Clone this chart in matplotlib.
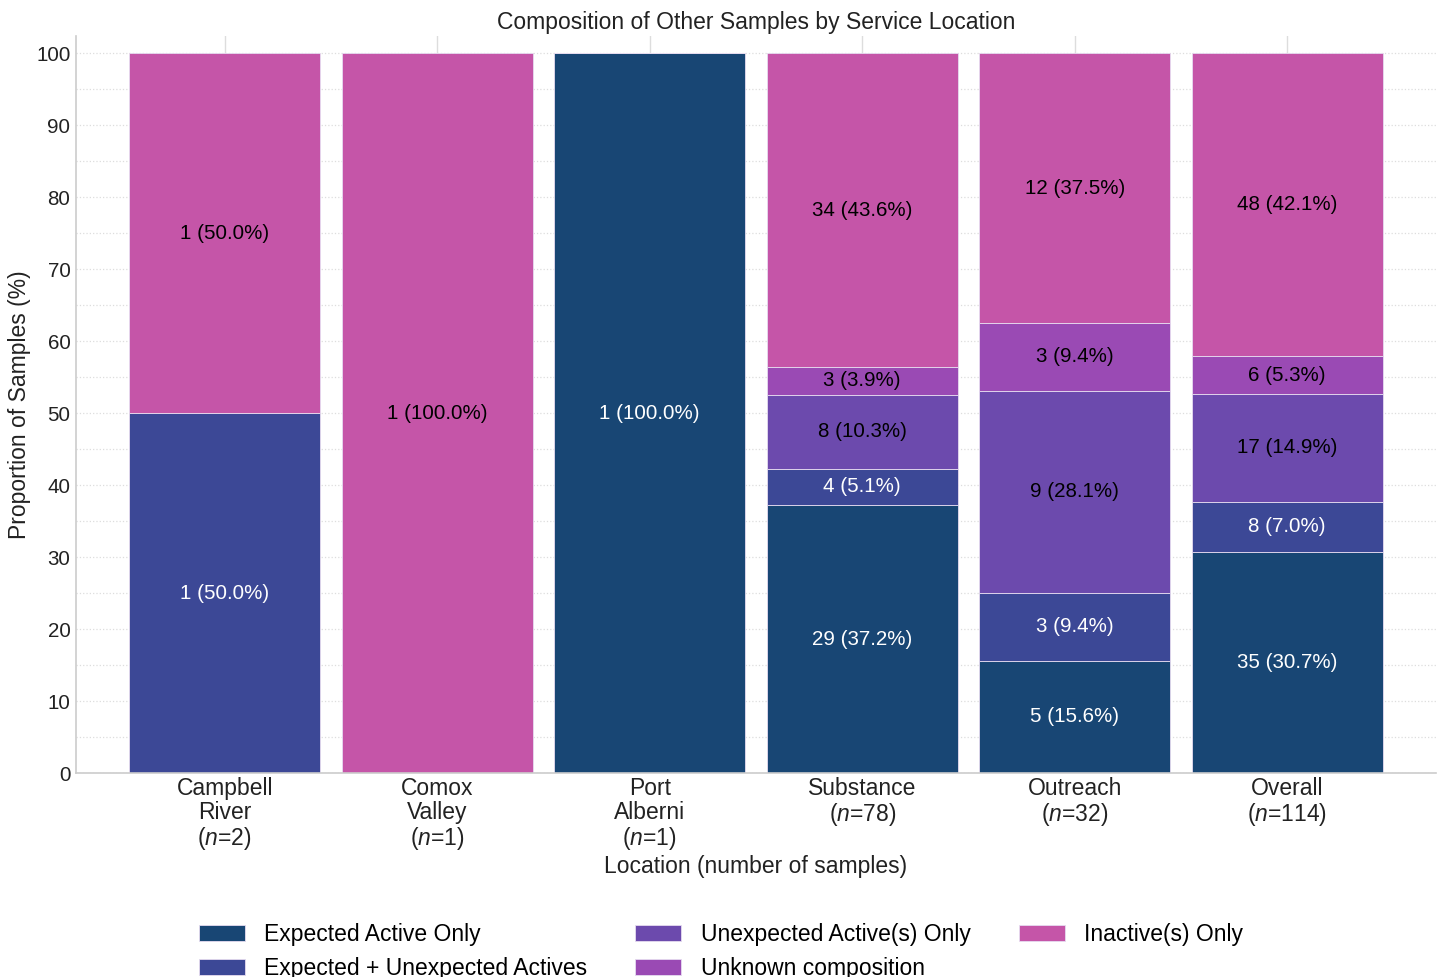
import matplotlib
matplotlib.use("Agg")
import matplotlib.pyplot as plt
import matplotlib.ticker as mticker
import numpy as np

FS = 16.5
FS_SMALL = 14.8
plt.rcParams.update({
    "font.family": ["Liberation Sans", "DejaVu Sans"],
    "font.size": FS,
    "mathtext.fontset": "custom",
    "mathtext.it": "Liberation Sans:italic",
    "mathtext.rm": "Liberation Sans",
})

# ── Data ────────────────────────────────────────────────────────────────
locations = ["Campbell\nRiver", "Comox\nValley", "Port\nAlberni",
             "Substance", "Outreach", "Overall"]
expected_only = [0, 0, 1, 29, 5, 35]
expected_plus = [1, 0, 0, 4, 3, 8]
unexpected_only = [0, 0, 0, 8, 9, 17]
unknown = [0, 0, 0, 3, 3, 6]
inactive = [1, 1, 0, 34, 12, 48]

# percentages as printed on the chart
expected_only_pct = [0, 0, 100.0, 37.2, 15.6, 30.7]
expected_plus_pct = [50.0, 0, 0, 5.1, 9.4, 7.0]
unexpected_only_pct = [0, 0, 0, 10.3, 28.1, 14.9]
unknown_pct = [0, 0, 0, 3.9, 9.4, 5.3]
inactive_pct = [50.0, 100.0, 0, 43.6, 37.5, 42.1]

categories = ["Expected Active Only", "Expected + Unexpected Actives",
              "Unexpected Active(s) Only", "Unknown composition",
              "Inactive(s) Only"]
colors = ["#184674", "#3c4896", "#6c4aad", "#9a4ab4", "#c555a8"]
text_colors = ["white", "white", "black", "black", "black"]

counts = np.array([expected_only, expected_plus, unexpected_only,
                   unknown, inactive], dtype=float)
shown_pct = np.array([expected_only_pct, expected_plus_pct,
                      unexpected_only_pct, unknown_pct, inactive_pct])
totals = counts.sum(axis=0)
pct = counts / totals * 100

# ── Figure ──────────────────────────────────────────────────────────────
fig = plt.figure(figsize=(14.42, 9.77), dpi=100)
ax = fig.add_axes([0.0527, 0.2088, 0.9431, 0.7543])

x = np.arange(len(locations))
bottom = np.zeros(len(locations))
for i, (cat, col) in enumerate(zip(categories, colors)):
    ax.bar(x, pct[i], 0.9, bottom=bottom, color=col, label=cat,
           edgecolor="#e6dcf0", linewidth=0.6, zorder=2)
    for j in range(len(locations)):
        if counts[i, j] > 0:
            ax.text(x[j], bottom[j] + pct[i, j] / 2,
                    f"{int(counts[i, j])} ({shown_pct[i, j]:.1f}%)",
                    ha="center", va="center", fontsize=FS_SMALL,
                    color=text_colors[i], zorder=3)
    bottom += pct[i]

xlabels = [f"{loc}\n($n$={int(t)})" for loc, t in zip(locations, totals)]
ax.set_xticks(x)
ax.set_xticklabels(xlabels, fontsize=FS, color="#222222", linespacing=1.05)
ax.set_xlim(-0.7, 5.7)
ax.set_ylim(0, 102.4)
ax.yaxis.set_major_locator(mticker.MultipleLocator(10))
ax.yaxis.set_minor_locator(mticker.MultipleLocator(5))
ax.tick_params(axis="both", which="both", length=0, colors="#222222", pad=4)
ax.tick_params(axis="y", labelsize=FS_SMALL)
ax.tick_params(axis="x", pad=3)

ax.grid(axis="y", which="both", color="#dddddd", linestyle=":", lw=0.9, zorder=0)
ax.grid(axis="x", which="major", color="#dddddd", linestyle="-", lw=1.0, zorder=0)
ax.set_axisbelow(True)

for s in ["top", "right"]:
    ax.spines[s].set_visible(False)
for s in ["left", "bottom"]:
    ax.spines[s].set_color("#cccccc")
    ax.spines[s].set_linewidth(1.2)

ax.set_title("Composition of Other Samples by Service Location",
             fontsize=FS, color="#222222", pad=5)
ax.set_xlabel("Location (number of samples)", fontsize=FS, color="#222222",
              labelpad=2)
ax.set_ylabel("Proportion of Samples (%)", fontsize=FS, color="#222222",
              labelpad=4)

fig.legend(loc="upper center", bbox_to_anchor=(0.5, 0.076), ncol=3,
           frameon=False, fontsize=FS, handlelength=2.0, handleheight=0.7,
           handletextpad=0.85, columnspacing=2.1, labelspacing=0.45)

fig.savefig("out.png", dpi=100, facecolor="white")
